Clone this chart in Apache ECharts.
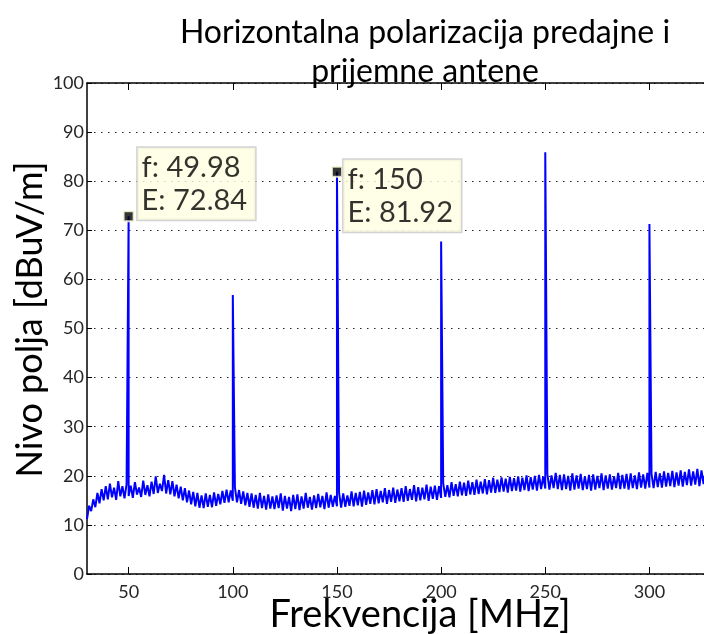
<!DOCTYPE html>
<html>
<head>
<meta charset="utf-8">
<script src="https://cdn.jsdelivr.net/npm/echarts@6/dist/echarts.min.js"></script>
<style>
html,body{margin:0;padding:0;background:#fff;}
#chart{width:704px;height:634px;}
</style>
</head>
<body>
<div id="chart"></div>
<script>
// Titles / texts
const titleText = 'Horizontalna polarizacija predajne i\nprijemne antene';
const xName = 'Frekvencija [MHz]';
const yName = 'Nivo polja [dBuV/m]';

// Tick labels
const xTicks = [50, 100, 150, 200, 250, 300];
const yMin = 0, yMax = 100, yStep = 10;
const xMin = 30, xMax = 326.2;   // right edge of the (cropped) picture

const noiseStartMHz = 30;
const noiseStepMHz = 1;
const noiseLevel = [
  11.2, 13.9, 12.8, 15.2, 13.6, 16.5, 14.4, 17.3, 15.0, 17.9,
  15.2, 18.4, 15.6, 17.6, 15.1, 18.9, 15.8, 17.9, 15.4, 18.3,
  15.9, 18.0, 15.5, 18.7, 16.2, 17.6, 15.7, 19.0, 16.1, 18.1,
  15.8, 18.8, 16.3, 19.9, 16.5, 18.4, 16.9, 20.2, 16.4, 19.1,
  16.2, 18.9, 15.8, 18.2, 15.4, 17.8, 15.0, 17.5, 14.6, 17.0,
  14.2, 16.7, 13.8, 16.5, 13.5, 16.0, 13.4, 16.4, 13.7, 16.1,
  13.6, 16.6, 13.9, 16.3, 14.2, 16.9, 14.5, 17.2, 14.6, 17.0,
  14.9, 17.7, 14.6, 17.1, 14.3, 16.8, 14.0, 16.5, 13.7, 16.4,
  13.5, 16.1, 13.3, 16.5, 13.4, 15.9, 13.1, 16.2, 13.3, 15.8,
  13.2, 16.0, 13.4, 16.4, 12.9, 15.9, 13.3, 15.7, 12.8, 16.1,
  13.2, 16.2, 13.0, 15.8, 13.3, 16.5, 13.5, 15.7, 13.1, 16.0,
  13.4, 16.3, 13.6, 15.9, 13.2, 16.6, 13.5, 16.1, 13.7, 15.9,
  13.8, 16.6, 13.5, 16.4, 13.7, 16.0, 13.9, 16.8, 13.8, 16.5,
  14.0, 16.7, 13.7, 17.0, 14.1, 16.6, 14.3, 17.1, 14.2, 17.3,
  14.4, 16.9, 14.6, 17.5, 14.3, 17.1, 14.7, 17.6, 14.5, 17.2,
  14.8, 17.5, 14.7, 17.9, 14.9, 17.3, 15.1, 18.1, 14.8, 17.7,
  15.0, 17.6, 15.2, 18.2, 14.9, 17.8, 15.3, 18.0, 15.1, 17.9,
  15.5, 18.5, 15.7, 18.1, 15.6, 18.7, 15.9, 18.3, 15.8, 18.8,
  16.0, 18.6, 15.9, 19.0, 16.2, 18.7, 16.1, 19.2, 16.3, 18.8,
  16.4, 19.3, 16.2, 19.1, 16.6, 19.6, 16.5, 19.2, 16.7, 19.7,
  16.8, 19.4, 16.6, 19.8, 16.9, 19.5, 17.0, 19.9, 16.8, 19.6,
  17.1, 20.1, 16.9, 19.7, 17.2, 20.0, 17.0, 20.2, 17.3, 19.8,
  17.4, 20.4, 17.2, 20.1, 17.5, 20.6, 17.3, 20.2, 17.1, 20.3,
  17.3, 20.0, 17.0, 20.5, 17.2, 20.1, 17.4, 20.4, 17.1, 19.9,
  17.3, 20.2, 17.0, 20.3, 17.2, 20.0, 17.5, 20.5, 17.1, 20.1,
  17.4, 20.3, 17.2, 19.9, 17.5, 20.6, 17.3, 20.2, 17.4, 20.4,
  17.2, 20.5, 17.5, 20.1, 17.3, 20.7, 17.6, 20.3, 17.4, 20.6,
  17.6, 20.4, 17.5, 20.8, 17.7, 20.5, 17.6, 20.9, 17.8, 20.6,
  17.9, 21.0, 17.7, 20.7, 18.0, 21.1, 17.8, 20.8, 18.1, 21.3,
  18.0, 20.9, 18.2, 21.4, 17.9, 21.1, 18.3, 21.2
];

// Harmonic spikes
const spikeFreq = [49.98, 100, 150, 200, 250, 300];
const spikeLevel = [72.84, 56.8, 81.92, 67.7, 85.9, 71.3];

// Data cursors
const cursorFreq = [49.98, 150];
const cursorLevel = [72.84, 81.92];

// Build line data
const lineData = noiseLevel.map((v, i) => [noiseStartMHz + i * noiseStepMHz, v]);
spikeFreq.forEach((f, i) => lineData.push([f, spikeLevel[i]]));
lineData.sort((a, b) => a[0] - b[0]);

const cursorData = cursorFreq.map((f, i) => [f, cursorLevel[i]]);
const labelOffsets = [[15, -62.5], [12.5, -6]];

const FONT = 'Lato, "Open Sans", sans-serif';
const chart = echarts.init(document.getElementById('chart'), null, {renderer: 'canvas'});

chart.setOption({
  animation: false,
  backgroundColor: '#ffffff',
  title: {
    text: titleText,
    left: 420,
    top: 8,
    textAlign: 'center',
    textStyle: {fontFamily: FONT, fontSize: 32, fontWeight: 'normal', color: '#000', lineHeight: 39}
  },
  grid: {left: 87, right: 0, top: 83, bottom: 60, containLabel: false, outerBoundsMode: 'none'},
  xAxis: [{
    type: 'value', min: xMin, max: xMax, position: 'bottom',
    name: xName, nameLocation: 'middle', nameGap: 22, nameMoveOverlap: false,
    nameTextStyle: {fontFamily: FONT, fontSize: 38, color: '#000', padding: [0, 0, 0, 49]},
    axisLine: {show: true, onZero: false, lineStyle: {color: '#000', width: 1.5}},
    axisTick: {show: true, inside: true, length: 7, customValues: xTicks, lineStyle: {color: '#000', width: 1}},
    axisLabel: {customValues: xTicks, fontFamily: FONT, fontSize: 18, color: '#262626', margin: 9},
    splitLine: {show: false}
  }, {
    type: 'value', min: xMin, max: xMax, position: 'top',
    axisLine: {show: true, onZero: false, lineStyle: {color: '#000', width: 1.5}},
    axisTick: {show: true, inside: true, length: 7, customValues: xTicks, lineStyle: {color: '#000', width: 1}},
    axisLabel: {show: false},
    splitLine: {show: false}
  }],
  yAxis: {
    type: 'value', min: yMin, max: yMax, interval: yStep,
    name: yName, nameLocation: 'middle', nameGap: 39, nameMoveOverlap: false,
    nameTextStyle: {fontFamily: FONT, fontSize: 36, color: '#000', padding: [0, 0, 0, 18]},
    axisLine: {show: true, onZero: false, lineStyle: {color: '#000', width: 1.5}},
    axisTick: {show: true, inside: true, length: 5, lineStyle: {color: '#000'}},
    axisLabel: {fontFamily: FONT, fontSize: 18, color: '#262626', margin: 3},
    splitLine: {show: true, lineStyle: {color: '#222', width: 1, type: [1.5, 5.5]}}
  },
  series: [{
    type: 'line',
    data: lineData,
    showSymbol: false,
    symbol: 'none',
    lineStyle: {color: '#0000ff', width: 2},
    z: 2
  }, {
    type: 'scatter',
    data: cursorData.map((d, i) => ({value: d, label: {position: labelOffsets[i]}})),
    symbol: 'rect',
    symbolSize: 10,
    itemStyle: {color: '#000', borderColor: '#ffffe1', borderWidth: 2},
    label: {
      show: true,
      align: 'left', verticalAlign: 'top',
      formatter: p => 'f: ' + p.value[0] + '\nE: ' + p.value[1],
      fontFamily: FONT, fontSize: 29, lineHeight: 33, color: '#000',
      backgroundColor: '#ffffe1', borderColor: '#c8c8c8', borderWidth: 1.5,
      padding: [3, 8, 3, 4]
    },
    z: 5
  }]
});
</script>
</body>
</html>
